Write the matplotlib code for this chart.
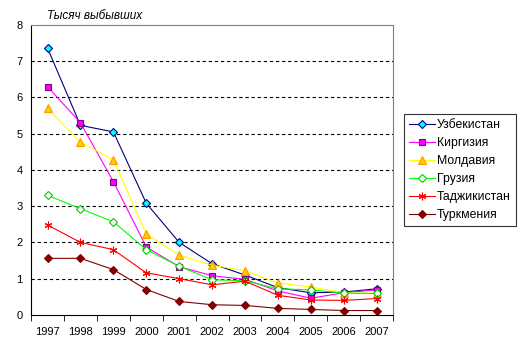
import matplotlib

matplotlib.use("Agg")
import matplotlib.pyplot as plt
import numpy as np

plt.rcParams["font.family"] = ["Liberation Sans", "DejaVu Sans"]
plt.rcParams["font.size"] = 8

years = ["1997", "1998", "1999", "2000", "2001", "2002",
         "2003", "2004", "2005", "2006", "2007"]

uzbekistan = [7.36, 5.23, 5.05, 3.08, 2.0, 1.41, 1.1, 0.75, 0.61, 0.63, 0.72]
kirgizia = [6.3, 5.3, 3.68, 1.87, 1.33, 1.08, 0.98, 0.66, 0.46, 0.61, 0.69]
moldavia = [5.7, 4.77, 4.28, 2.23, 1.65, 1.37, 1.22, 0.88, 0.77, 0.61, 0.6]
georgia = [3.3, 2.93, 2.57, 1.8, 1.34, 0.97, 0.94, 0.72, 0.69, 0.6, 0.59]
tajikistan = [2.48, 2.0, 1.8, 1.16, 1.0, 0.83, 0.93, 0.54, 0.41, 0.4, 0.45]
turkmenia = [1.56, 1.56, 1.25, 0.7, 0.37, 0.28, 0.26, 0.18, 0.15, 0.12, 0.12]

series = [
    ("Узбекистан", uzbekistan, dict(color="#000080", marker="D", mfc="#00ffff", mec="#000080", ms=4.5)),
    ("Киргизия", kirgizia, dict(color="#ff00ff", marker="s", mfc="#ff00ff", mec="#800080", ms=5)),
    ("Молдавия", moldavia, dict(color="#ffff00", marker="^", mfc="#ffcc00", mec="#ff9900", ms=5.5)),
    ("Грузия", georgia, dict(color="#00ff00", marker="D", mfc="white", mec="#00cc00", ms=4)),
    ("Таджикистан", tajikistan, dict(color="#ff0000", marker=(6, 2, 0), mfc="#ff0000", mec="#ff0000", ms=5.5)),
    ("Туркмения", turkmenia, dict(color="#800000", marker="D", mfc="#800000", mec="#800000", ms=4.5)),
]

fig = plt.figure(figsize=(5.18, 3.57), dpi=100)
ax = fig.add_axes([0.06, 0.118, 0.699, 0.812])

x = np.arange(len(years))
for name, vals, st in series:
    ax.plot(x, vals, lw=0.8, label=name, mew=0.8, **st)

ax.set_xlim(-0.5, len(years) - 0.5)
ax.set_ylim(0, 8)
ax.set_yticks(range(0, 9))
ax.set_xticks(x)
ax.set_xticklabels(years)
ax.set_xticks(np.arange(-0.5, len(years)), minor=True)
ax.tick_params(axis="x", which="major", length=0, pad=9)
ax.tick_params(axis="x", which="minor", length=4, direction="out", color="black")
ax.tick_params(axis="y", length=0, pad=6)

# dashed horizontal gridlines, Excel style
for yv in range(1, 8):
    ax.axhline(yv, color="black", lw=0.8, ls=(0, (3, 2.5)), zorder=0)

for side in ["top", "right"]:
    ax.spines[side].set_color("#808080")
for side in ["left", "bottom"]:
    ax.spines[side].set_color("black")

fig.text(0.09, 0.948, "Тысяч выбывших", fontsize=8.5, style="italic")

leg = ax.legend(loc="upper left", bbox_to_anchor=(1.03, 0.693), borderaxespad=0,
                frameon=True, fancybox=False, edgecolor="black",
                handlelength=2.1, labelspacing=0.5, borderpad=0.4,
                handletextpad=0.2, fontsize=8.8)
leg.get_frame().set_linewidth(0.8)

fig.savefig("out.png", dpi=100)
